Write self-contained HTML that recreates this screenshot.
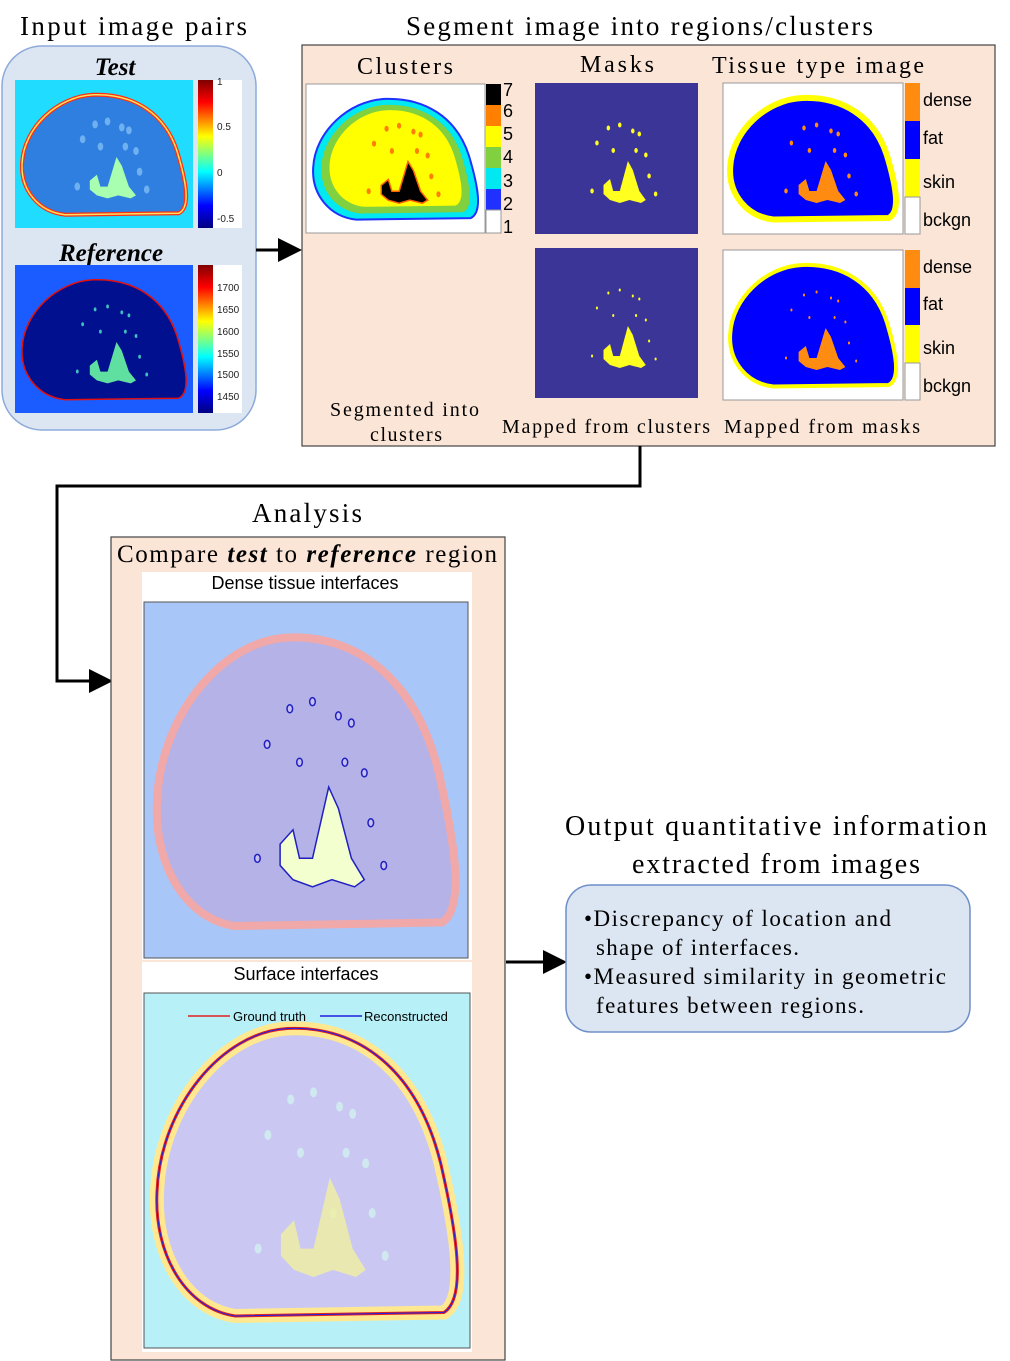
<!DOCTYPE html>
<html><head><meta charset="utf-8"><style>
body{margin:0;background:#fff}
svg{display:block}
.s{font-family:"Liberation Serif",serif}
.a{font-family:"Liberation Sans",sans-serif}
</style></head><body>
<svg id="root" width="1010" height="1361" viewBox="0 0 1010 1361">
<defs>
<marker id="ah" markerWidth="8" markerHeight="8" refX="7" refY="4" orient="auto"><path d="M0,0 L8,4 L0,8 Z" fill="#000"/></marker>
<linearGradient id="jet" x1="0" y1="0" x2="0" y2="1"><stop offset="0" stop-color="#800000"/><stop offset=".15" stop-color="#ff0000"/><stop offset=".38" stop-color="#ffff00"/><stop offset=".62" stop-color="#00ffff"/><stop offset=".85" stop-color="#0000ff"/><stop offset="1" stop-color="#000080"/></linearGradient>
</defs>

<text class="s" x="20" y="35" font-size="27" textLength="227">Input image pairs</text>
<rect x="2" y="46" width="254" height="384" rx="40" fill="#dce6f2" stroke="#8eaadb" stroke-width="1.5"/>
<text class="s" x="115" y="75" font-size="25" font-style="italic" font-weight="bold" text-anchor="middle">Test</text>
<g id="testimg"><rect x="15" y="80" width="178" height="148" fill="#20dcff"/></g>
<rect x="198" y="80" width="15" height="148" fill="url(#jet)"/>
<rect x="213" y="80" width="29" height="148" fill="#fff"/>
<g class="a" font-size="10" fill="#222"><text x="217" y="85">1</text><text x="217" y="130">0.5</text><text x="217" y="176">0</text><text x="217" y="222">-0.5</text></g>
<text class="s" x="111" y="261" font-size="25" font-style="italic" font-weight="bold" text-anchor="middle">Reference</text>
<g id="refimg"><rect x="15" y="265" width="178" height="148" fill="#1a5cff"/></g>
<rect x="198" y="265" width="15" height="148" fill="url(#jet)"/>
<rect x="213" y="265" width="29" height="148" fill="#fff"/>
<g class="a" font-size="10" fill="#222"><text x="217" y="291">1700</text><text x="217" y="313">1650</text><text x="217" y="335">1600</text><text x="217" y="357">1550</text><text x="217" y="378">1500</text><text x="217" y="400">1450</text></g>
<line x1="256" y1="250" x2="299" y2="250" stroke="#000" stroke-width="3" marker-end="url(#ah)"/>

<text class="s" x="406" y="35" font-size="27" textLength="467">Segment image into regions/clusters</text>
<rect x="302" y="45" width="693" height="401" fill="#fbe5d6" stroke="#444" stroke-width="1.2"/>
<g class="s" font-size="24"><text x="357" y="74" textLength="96">Clusters</text><text x="580" y="72" textLength="74">Masks</text><text x="712" y="73" textLength="212">Tissue type image</text></g>
<g id="climg"><rect x="306" y="84" width="179" height="149" fill="#fff" stroke="#999"/></g>
<g>
<rect x="486" y="84" width="15" height="21" fill="#000"/><rect x="486" y="105" width="15" height="21" fill="#ff8000"/><rect x="486" y="126" width="15" height="21" fill="#ffff00"/><rect x="486" y="147" width="15" height="21" fill="#80d040"/><rect x="486" y="168" width="15" height="21" fill="#00e8f0"/><rect x="486" y="189" width="15" height="21" fill="#2030ff"/><rect x="486" y="210" width="15" height="23" fill="#fff" stroke="#999"/>
<g class="a" font-size="18"><text x="503" y="96">7</text><text x="503" y="117">6</text><text x="503" y="140">5</text><text x="503" y="163">4</text><text x="503" y="187">3</text><text x="503" y="210">2</text><text x="503" y="233">1</text></g>
</g>
<g id="m1"><rect x="535" y="83" width="163" height="151" fill="#3b3597"/></g>
<g id="m2"><rect x="535" y="248" width="163" height="150" fill="#3b3597"/></g>
<g id="t1"><rect x="723" y="83" width="180" height="151" fill="#fff" stroke="#999"/></g>
<g id="t2"><rect x="723" y="250" width="180" height="150" fill="#fff" stroke="#999"/></g>
<g><rect x="905" y="83" width="15" height="38" fill="#ff8c10"/><rect x="905" y="121" width="15" height="38" fill="#0000ff"/><rect x="905" y="159" width="15" height="38" fill="#ffff00"/><rect x="905" y="197" width="15" height="37" fill="#fff" stroke="#999"/>
<g class="a" font-size="18"><text x="923" y="106">dense</text><text x="923" y="144">fat</text><text x="923" y="188">skin</text><text x="923" y="226">bckgn</text></g></g>
<g><rect x="905" y="250" width="15" height="38" fill="#ff8c10"/><rect x="905" y="288" width="15" height="37" fill="#0000ff"/><rect x="905" y="325" width="15" height="38" fill="#ffff00"/><rect x="905" y="363" width="15" height="37" fill="#fff" stroke="#999"/>
<g class="a" font-size="18"><text x="923" y="273">dense</text><text x="923" y="310">fat</text><text x="923" y="354">skin</text><text x="923" y="392">bckgn</text></g></g>
<g class="s" font-size="20"><text x="330" y="416" textLength="149">Segmented into</text><text x="370" y="441" textLength="72">clusters</text><text x="502" y="433" textLength="208">Mapped from clusters</text><text x="724" y="433" textLength="196">Mapped from masks</text></g>

<polyline points="640,446 640,486 57,486 57,681 110,681" fill="none" stroke="#000" stroke-width="3" marker-end="url(#ah)"/>

<text class="s" x="252" y="522" font-size="27" textLength="110">Analysis</text>
<rect x="111" y="537" width="394" height="823" fill="#fbe5d6" stroke="#444" stroke-width="1.2"/>
<text class="s" x="117" y="562" font-size="25" textLength="380">Compare <tspan font-style="italic" font-weight="bold">test</tspan> to <tspan font-style="italic" font-weight="bold">reference</tspan> region</text>
<rect x="142" y="572" width="330" height="388" fill="#fff"/>
<text class="a" x="305" y="589" font-size="18" text-anchor="middle">Dense tissue interfaces</text>
<g id="dp"><rect x="144" y="602" width="324" height="356" fill="#a9c6f9" stroke="#555"/></g>
<rect x="142" y="962" width="330" height="390" fill="#fff"/>
<text class="a" x="306" y="980" font-size="18" text-anchor="middle">Surface interfaces</text>
<g id="sp"><rect x="144" y="993" width="326" height="355" fill="#b8f0f8" stroke="#555"/></g>
<g id="leg">
<line x1="188" y1="1016" x2="230" y2="1016" stroke="#e02020" stroke-width="1.5"/><text class="a" x="233" y="1021" font-size="13">Ground truth</text>
<line x1="320" y1="1016" x2="362" y2="1016" stroke="#2020e0" stroke-width="1.5"/><text class="a" x="364" y="1021" font-size="13">Reconstructed</text>
</g>
<line x1="506" y1="962" x2="564" y2="962" stroke="#000" stroke-width="3" marker-end="url(#ah)"/>

<g class="s" font-size="28"><text x="565" y="835" textLength="422">Output quantitative information</text><text x="632" y="873" textLength="288">extracted from images</text></g>
<rect x="566" y="885" width="404" height="147" rx="25" fill="#dce6f2" stroke="#6f8fc8" stroke-width="1.5"/>
<g class="s" font-size="23"><text x="584" y="926" textLength="307">•Discrepancy of location and</text><text x="596" y="955" textLength="203">shape of interfaces.</text><text x="584" y="984" textLength="362">•Measured similarity in geometric</text><text x="596" y="1013" textLength="268">features between regions.</text></g>
</svg>
<script>
const NS="http://www.w3.org/2000/svg";
const BLOB="M4,56 C5,32 24,11 44,10 C66,9 84,22 91,48 C96,68 99,86 92,90 L28,91 C13,89 3,74 4,56 Z";
const DENSE="M42,68 L46,64 L48,72 L52,72 L57,52 L60,58 L64,72 L68,78 L65,80 L58,78 L52,80 L46,78 L42,74 Z";
const SPOTS=[[45,30],[52,28],[60,32],[48,45],[62,45],[68,48],[38,40],[70,62],[74,74],[35,72],[64,34],[58,62]];
function tp(d,x,y,w,h){return d.replace(/(-?[\d.]+),(-?[\d.]+)/g,(m,a,b)=>(x+a*w/100).toFixed(1)+","+(y+b*h/100).toFixed(1));}
function p(g,d,attrs){const e=document.createElementNS(NS,"path");e.setAttribute("d",d);for(const k in attrs)e.setAttribute(k,attrs[k]);document.getElementById(g).appendChild(e);return e;}
function spots(g,x,y,w,h,fill,stroke,r){SPOTS.forEach(s=>{const e=document.createElementNS(NS,"ellipse");e.setAttribute("cx",x+s[0]*w/100);e.setAttribute("cy",y+s[1]*h/100);e.setAttribute("rx",r*0.7);e.setAttribute("ry",r);e.setAttribute("fill",fill);if(stroke){e.setAttribute("stroke",stroke);e.setAttribute("stroke-width",1.5);}document.getElementById(g).appendChild(e);});}
function scaled(d,cx,cy,s){return d.replace(/(-?[\d.]+),(-?[\d.]+)/g,(m,a,b)=>(cx+(a-cx)*s)+","+(cy+(b-cy)*s));}
p("testimg",tp(BLOB,15,80,178,148),{fill:"#2f7fe0",stroke:"#ff3010","stroke-width":4});
p("testimg",tp(BLOB,15,80,178,148),{fill:"none",stroke:"#ffe060","stroke-width":1.5});
spots("testimg",15,80,178,148,"#6fb0f0",null,4);
p("testimg",tp(DENSE,15,80,178,148),{fill:"#a8ffb0"});
p("refimg",tp(BLOB,15,265,178,148),{fill:"#00108e",stroke:"#e01010","stroke-width":1.5});
spots("refimg",15,265,178,148,"#40c0c0",null,2);
p("refimg",tp(DENSE,15,265,178,148),{fill:"#60e0a0"});
p("climg",tp(BLOB,306,84,179,149),{fill:"#00e8f0",stroke:"#2030ff","stroke-width":2});
p("climg",tp(scaled(BLOB,50,50,0.9),306,84,179,149),{fill:"#80d040"});
p("climg",tp(scaled(BLOB,50,48,0.8),306,84,179,149),{fill:"#ffff00"});
spots("climg",306,84,179,149,"#ff8000",null,3);
p("climg",tp(DENSE,306,84,179,149),{fill:"#000",stroke:"#ff6000","stroke-width":1.5});
["m1","m2"].forEach((g,i)=>{const y=i?248:83;spots(g,535,y,163,150,"#ffff20",null,i?1.5:2.5);p(g,tp(DENSE,535,y,163,150),{fill:"#ffff20"});});
["t1","t2"].forEach((g,i)=>{const y=i?250:83;p(g,tp(BLOB,723,y,180,150),{fill:"#0000ff",stroke:"#ffff00","stroke-width":i?4:6});spots(g,723,y,180,150,"#ff8c10",null,i?1.5:2.5);p(g,tp(DENSE,723,y,180,150),{fill:"#ff8c10"});});
p("dp",tp(BLOB,144,602,324,356),{fill:"#b5b2e8",stroke:"#f0a8a8","stroke-width":8});
spots("dp",144,602,324,356,"#c8c0f0","#2020c0",4);
p("dp",tp(DENSE,144,602,324,356),{fill:"#f4ffd0",stroke:"#2020c0","stroke-width":1.5});
p("sp",tp(BLOB,144,993,326,355),{fill:"#cac8f2",stroke:"#ffe890","stroke-width":14});
p("sp",tp(BLOB,144,993,326,355),{fill:"none",stroke:"#e02020","stroke-width":3});
p("sp",tp(BLOB,144,993,326,355),{fill:"none",stroke:"#2020e0","stroke-width":1});
spots("sp",144,993,326,355,"#d0e8f0",null,5);
p("sp",tp(DENSE,144,993,326,355),{fill:"#f0f0a0",opacity:.8});
</script>
</body></html>
